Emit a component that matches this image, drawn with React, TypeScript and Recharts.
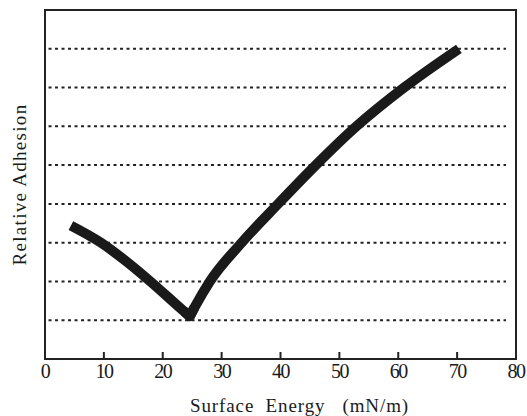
import { LineChart, Line, XAxis, YAxis, ReferenceLine, ReferenceArea, Label } from 'recharts';

// surface energy (mN/m) vs relative adhesion
const energy = [4.4, 9.5, 13.7, 17.9, 23.6, 24.6, 25.4, 28.0, 33.4, 39.6, 46.0, 52.9, 61.0, 70.3];
const falling = [3.44, 3, 2.53, 2, 1.23, 1.1, null, null, null, null, null, null, null, null];
const rising = [null, null, null, null, null, 1.1, 1.33, 2, 3, 4, 5, 6, 7, 8];
const vertex = [null, null, null, null, 1.23, 1.1, 1.33, null, null, null, null, null, null, null];
const xTicks = [0, 10, 20, 30, 40, 50, 60, 70, 80];
const gridLevels = [1, 2, 3, 4, 5, 6, 7, 8];

const data = energy.map((e, i) => ({ energy: e, falling: falling[i], rising: rising[i], vertex: vertex[i] }));

const serif = '"Liberation Serif", "Times New Roman", serif';
const sp = '\u00a0';
const ink = '#1a1a1a';

function Tick(props: any) {
  const { x, y, payload } = props;
  return (
    <text x={x} y={y + 19} textAnchor="middle" fontSize={20} fontFamily={serif} fill={ink} letterSpacing={-1.5}>
      {payload.value}
    </text>
  );
}

export default function App() {
  return (
    <div style={{ position: 'absolute', left: 0, top: 0, background: '#fff' }}>
      <LineChart width={527} height={416} data={data} margin={{ top: 10, right: 11, bottom: 0, left: 0 }}>
        <XAxis
          dataKey="energy"
          type="number"
          domain={[0, 80]}
          ticks={xTicks}
          height={57}
          stroke="#222"
          axisLine={{ strokeWidth: 2 }}
          tickSize={-7}
          tickMargin={7}
          tickLine={{ strokeWidth: 2 }}
          tick={<Tick />}
        >
          <Label
            value={`Surface${sp}${sp}Energy${sp}${sp}${sp}(mN/m)`}
            position="insideBottom"
            offset={4}
            dx={19}
            fontSize={19}
            fontFamily={serif}
            fill={ink}
            letterSpacing={0.9}
          />
        </XAxis>
        <YAxis
          type="number"
          domain={[0, 9]}
          width={45}
          tick={false}
          tickLine={false}
          stroke="#222"
          axisLine={{ strokeWidth: 2 }}
        >
          <Label
            value="Relative Adhesion"
            angle={-90}
            position="center"
            dx={-3}
            fontSize={19}
            fontFamily={serif}
            fill={ink}
            letterSpacing={1.3}
          />
        </YAxis>
        <ReferenceArea x1={0} x2={80} y1={0} y2={9} fill="none" stroke="#222" strokeWidth={2} />
        {gridLevels.map(g => (
          <ReferenceLine
            key={g}
            segment={[{ x: 0.6, y: g }, { x: 78.3, y: g }]}
            stroke="#222"
            strokeWidth={2}
            strokeDasharray="3 3.5"
          />
        ))}
        <Line type="monotone" dataKey="falling" stroke={ink} strokeWidth={10} strokeLinecap="butt" dot={false} isAnimationActive={false} />
        <Line type="monotone" dataKey="rising" stroke={ink} strokeWidth={10} strokeLinecap="butt" dot={false} isAnimationActive={false} />
        <Line type="linear" dataKey="vertex" stroke={ink} strokeWidth={10} strokeLinecap="butt" strokeLinejoin="round" dot={false} isAnimationActive={false} />
      </LineChart>
    </div>
  );
}
